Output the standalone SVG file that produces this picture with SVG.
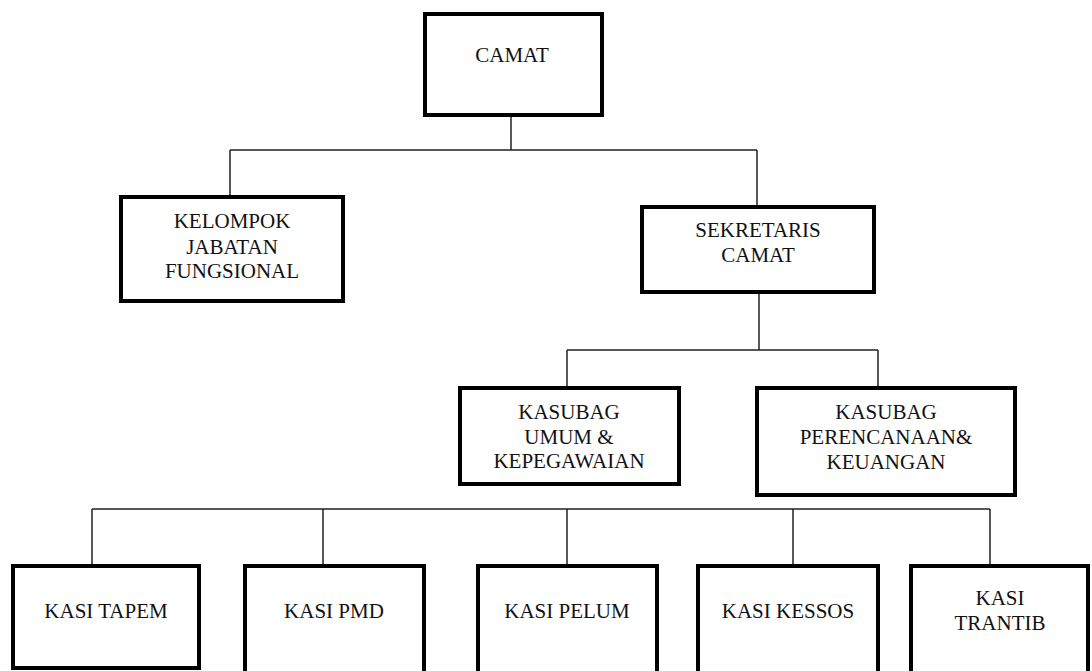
<svg xmlns="http://www.w3.org/2000/svg" width="1092" height="671" viewBox="0 0 1092 671">
<style>
.box{fill:#fff;stroke:#000;stroke-width:4}
.ln{fill:none;stroke:#222;stroke-width:1.5}
.t text{font-size:21px;fill:#111;text-anchor:middle}
</style>
<rect width="1092" height="671" fill="#fff"/>
<g id="connectors">
<path class="ln" d="M511 115V150M230 150H757M230 150V196M757 150V206"/>
<path class="ln" d="M759 292V350M567 350H878M567 350V387M878 350V387"/>
<path class="ln" d="M92 509H990M92 509V565M323 509V565M567 509V565M793 509V565M990 509V565"/>
</g>
<g class="t" font-family="'Liberation Serif', 'Times New Roman', serif">
<g id="camat"><rect class="box" x="425" y="14" width="177" height="101"/><text x="512" y="62">CAMAT</text></g>
<g id="kelompok"><rect class="box" x="121" y="197" width="222" height="104"/><text x="232" y="228">KELOMPOK</text><text x="232" y="254">JABATAN</text><text x="232" y="278">FUNGSIONAL</text></g>
<g id="sekretaris"><rect class="box" x="642" y="207" width="232" height="85"/><text x="758" y="237">SEKRETARIS</text><text x="758" y="262">CAMAT</text></g>
<g id="kasubag-umum"><rect class="box" x="460" y="388" width="219" height="96"/><text x="569" y="419">KASUBAG</text><text x="569" y="444">UMUM &amp;</text><text x="569" y="468">KEPEGAWAIAN</text></g>
<g id="kasubag-perencanaan"><rect class="box" x="757" y="388" width="258" height="107"/><text x="886" y="419">KASUBAG</text><text x="886" y="444">PERENCANAAN&amp;</text><text x="886" y="469">KEUANGAN</text></g>
<g id="kasi-tapem"><rect class="box" x="13" y="566" width="186" height="102"/><text x="106" y="618">KASI TAPEM</text></g>
<g id="kasi-pmd"><rect class="box" x="245" y="566" width="179" height="110"/><text x="334" y="618">KASI PMD</text></g>
<g id="kasi-pelum"><rect class="box" x="478" y="566" width="179" height="110"/><text x="567" y="618">KASI PELUM</text></g>
<g id="kasi-kessos"><rect class="box" x="698" y="566" width="180" height="110"/><text x="788" y="618">KASI KESSOS</text></g>
<g id="kasi-trantib"><rect class="box" x="911" y="566" width="177" height="110"/><text x="1000" y="605">KASI</text><text x="1000" y="630">TRANTIB</text></g>
</g>
</svg>
